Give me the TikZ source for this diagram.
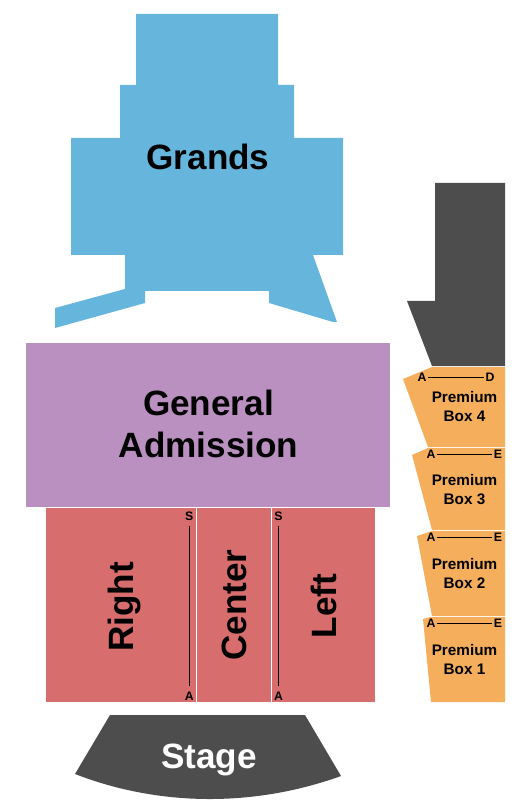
\documentclass[tikz,border=0pt]{standalone}
\usepackage{fontspec}
\setmainfont{Liberation Sans}
\usepackage{tikz}
\definecolor{grandblue}{RGB}{102,181,221}
\definecolor{gapurple}{RGB}{186,144,192}
\definecolor{floorred}{RGB}{215,109,109}
\definecolor{boxorange}{RGB}{245,174,91}
\definecolor{stagegray}{RGB}{77,77,77}

\begin{document}
\begin{tikzpicture}[
  x=0.02cm, y=-0.02cm,
  biglabel/.style={font=\fontsize{20}{23.8}\selectfont\bfseries, inner sep=0pt, align=center},
  boxlabel/.style={font=\fontsize{8.7}{10.8}\selectfont\bfseries, inner sep=0pt, align=center},
  rowlabel/.style={font=\fontsize{7}{8}\selectfont\bfseries, inner sep=0.7pt},
  rowline/.style={black, line width=0.55pt},
  vrowline/.style={rowline, shorten >=2.4pt, shorten <=2.4pt}
]
  \useasboundingbox (0,0) rectangle (525,810);

  % grands
  \fill[grandblue] (136,14) -- (278,14) -- (278,85) -- (294,85) -- (294,138) -- (343,138)
    -- (343,255) -- (313,255) -- (337,322) -- (333,322) -- (269,303) -- (269,291)
    -- (145,291) -- (145,303) -- (55,328) -- (55,308) -- (125,289) -- (125,255)
    -- (71,255) -- (71,138) -- (120,138) -- (120,85) -- (136,85) -- cycle;
  \node[biglabel] (grands) at (208,157) {Grands};

  % floor
  \fill[gapurple] (26,343) rectangle (390,507);
  \node[biglabel] (ga) at (208.5,424) {General\\Admission};
  \fill[floorred] (46,508) rectangle (196,702);
  \fill[floorred] (197,508) rectangle (270.5,702);
  \fill[floorred] (271.5,508) rectangle (375,702);
  \node[biglabel, rotate=90] (right)  at (124,607) {Right};
  \node[biglabel, rotate=90] (center) at (234,605) {Center};
  \node[biglabel, rotate=90] (left)   at (324,606) {Left};

  \node[rowlabel] (rs) at (189.3,516) {S};
  \node[rowlabel] (ra) at (189.3,696) {A};
  \node[rowlabel] (ls) at (278.5,516) {S};
  \node[rowlabel] (la) at (278.5,696) {A};
  \draw[vrowline] (rs) -- (ra);
  \draw[vrowline] (ls) -- (la);

  % stage and upper block
  \fill[stagegray] (110,715) -- (305,715) -- (341,776)
    .. controls (255,807) and (160,807) .. (75,774) -- cycle;
  \node[biglabel, text=white] (stage) at (209,760) {Stage};
  \fill[stagegray] (435,183) -- (505,183) -- (505,366) -- (432,366) -- (407,301) -- (435,301) -- cycle;

  % premium boxes
  \fill[boxorange] (505,367) -- (432,367) -- (403,379) -- (428,447) -- (505,447) -- cycle;
  \fill[boxorange] (505,448) -- (428,448) -- (412,455) -- (432,530) -- (505,530) -- cycle;
  \fill[boxorange] (505,531) -- (432,531) -- (417,536) -- (432,616) -- (505,616) -- cycle;
  \fill[boxorange] (505,617) -- (430,617) -- (423,619) -- (431,702) -- (505,702) -- cycle;

  \node[boxlabel] (box4) at (464.5,407) {Premium\\Box 4};
  \node[boxlabel] (box3) at (464.5,490) {Premium\\Box 3};
  \node[boxlabel] (box2) at (464.5,574) {Premium\\Box 2};
  \node[boxlabel] (box1) at (464.5,660) {Premium\\Box 1};

  \node[rowlabel] (a4) at (422,377) {A};
  \node[rowlabel] (d4) at (490,377) {D};
  \node[rowlabel] (a3) at (431,454) {A};
  \node[rowlabel] (e3) at (498,454) {E};
  \node[rowlabel] (a2) at (431,537) {A};
  \node[rowlabel] (e2) at (498,537) {E};
  \node[rowlabel] (a1) at (431,623) {A};
  \node[rowlabel] (e1) at (498,623) {E};
  \draw[rowline] (a4) -- (d4);
  \draw[rowline] (a3) -- (e3);
  \draw[rowline] (a2) -- (e2);
  \draw[rowline] (a1) -- (e1);
\end{tikzpicture}
\end{document}
